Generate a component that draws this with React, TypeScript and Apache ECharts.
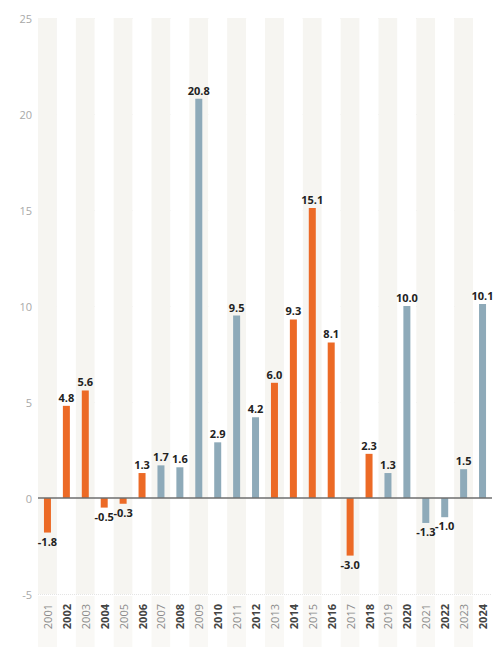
import React, { useEffect, useRef } from "react";
import * as echarts from "echarts";

const years = ["2001","2002","2003","2004","2005","2006","2007","2008","2009","2010","2011","2012","2013","2014","2015","2016","2017","2018","2019","2020","2021","2022","2023","2024"];
const values = [-1.8, 4.8, 5.6, -0.5, -0.3, 1.3, 1.7, 1.6, 20.8, 2.9, 9.5, 4.2, 6.0, 9.3, 15.1, 8.1, -3.0, 2.3, 1.3, 10.0, -1.3, -1.0, 1.5, 10.1];
const groups = ["o","o","o","o","o","o","b","b","b","b","b","b","o","o","o","o","o","o","b","b","b","b","b","b"];
const yTicks = [-5, 0, 5, 10, 15, 20, 25];

const ORANGE = "#ec6a26";
const BLUE = "#8eaab9";

export default function App() {
  const ref = useRef<HTMLDivElement>(null);
  useEffect(() => {
    if (!ref.current) return;
    const chart = echarts.init(ref.current, null, { renderer: "svg" });
    const data = values.map((v, i) => ({
      value: v,
      itemStyle: { color: groups[i] === "o" ? ORANGE : BLUE },
      label: { position: v < 0 ? "bottom" : "top" },
    }));
    chart.setOption({
      animation: false,
      backgroundColor: "#ffffff",
      grid: [
        { left: 38, right: 6, top: 18, bottom: 59 },
        { left: 38, right: 6, top: 596, bottom: 6 },
      ],
      xAxis: [
        {
          type: "category",
          gridIndex: 0,
          data: years,
          axisLine: { show: false, onZero: false },
          axisTick: { show: false },
          splitArea: { show: true, interval: 0, areaStyle: { color: ["#f6f5f1", "#ffffff"] } },
          axisLabel: {
            rotate: 90,
            interval: 0,
            margin: 10,
            fontFamily: "Open Sans",
            formatter: (v: string) => (parseInt(v) % 2 === 0 ? `{b|${v}}` : `{n|${v}}`),
            rich: {
              b: { fontSize: 11, fontWeight: "bold", color: "#444", fontFamily: "Open Sans" },
              n: { fontSize: 11, color: "#8a8a8a", fontFamily: "Open Sans" },
            },
          },
          z: 1,
        },
        {
          type: "category",
          gridIndex: 1,
          data: years,
          axisLine: { show: false },
          axisTick: { show: false },
          axisLabel: { show: false },
          splitArea: { show: true, interval: 0, areaStyle: { color: ["#f9f8f5", "#ffffff"] } },
          z: 0,
        },
      ],
      yAxis: [
        {
          type: "value",
          gridIndex: 0,
          min: yTicks[0],
          max: yTicks[yTicks.length - 1],
          interval: 5,
          axisLine: { show: false },
          axisTick: { show: false },
          axisLabel: { color: "#a8a8a8", fontSize: 11, fontFamily: "Open Sans", margin: 6 },
          splitLine: { show: true, lineStyle: { color: "#e4e4e4", type: "dotted", width: 1 } },
        },
        {
          type: "value",
          gridIndex: 1,
          min: 0,
          max: 1,
          show: false,
        },
      ],
      series: [
        {
          type: "bar",
          xAxisIndex: 0,
          yAxisIndex: 0,
          data,
          barWidth: 7,
          z: 3,
          label: {
            show: true,
            formatter: (p: any) => Number(p.value).toFixed(1),
            fontFamily: "Open Sans",
            fontWeight: "bold",
            fontSize: 11,
            color: "#222",
            distance: 3,
          },
          markLine: {
            silent: true,
            symbol: "none",
            label: { show: false },
            lineStyle: { color: "#6e6e6e", width: 1.5, type: "solid" },
            data: [{ yAxis: 0 }],
          },
        },
      ],
    });
    return () => chart.dispose();
  }, []);
  return <div ref={ref} style={{ position: "fixed", left: 0, top: 0, width: 498, height: 653 }} />;
}
